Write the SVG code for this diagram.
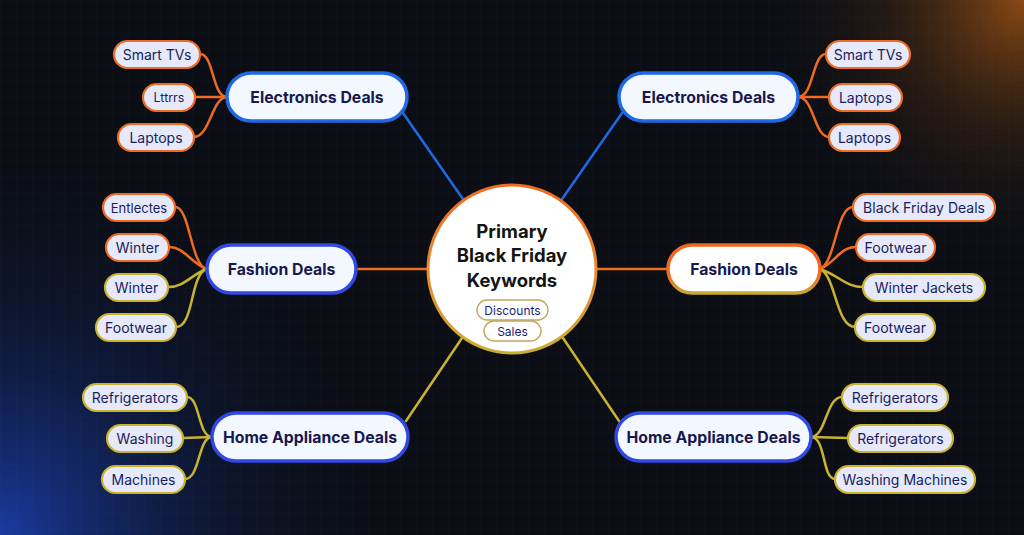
<svg xmlns="http://www.w3.org/2000/svg" width="1024" height="535" viewBox="0 0 1024 535">
<defs>
<radialGradient id="gBlue" cx="0" cy="535" r="400" gradientUnits="userSpaceOnUse">
<stop offset="0" stop-color="#1c3fb0" stop-opacity="0.9"/>
<stop offset="0.45" stop-color="#122a70" stop-opacity="0.45"/>
<stop offset="1" stop-color="#0b0e16" stop-opacity="0"/>
</radialGradient>
<radialGradient id="gOrange" cx="1024" cy="0" r="280" gradientUnits="userSpaceOnUse">
<stop offset="0" stop-color="#a05414" stop-opacity="0.85"/>
<stop offset="0.5" stop-color="#4a2a10" stop-opacity="0.4"/>
<stop offset="1" stop-color="#0b0e16" stop-opacity="0"/>
</radialGradient>
<linearGradient id="gRing" x1="0" y1="0" x2="0" y2="1">
<stop offset="0" stop-color="#ef6a22"/>
<stop offset="0.5" stop-color="#e88a30"/>
<stop offset="1" stop-color="#c8b030"/>
</linearGradient>
<linearGradient id="gFash" x1="0" y1="0" x2="0" y2="1">
<stop offset="0" stop-color="#f2641c"/>
<stop offset="0.6" stop-color="#ef6a22"/>
<stop offset="1" stop-color="#c8a830"/>
</linearGradient>
<pattern id="grid" width="16" height="16" patternUnits="userSpaceOnUse">
<path d="M16 0H0V16" fill="none" stroke="#ffffff" stroke-opacity="0.025" stroke-width="1"/>
</pattern>
<style>
.main{fill:#f3f7ff;stroke-width:3.5}
.mt{font-family:Inter,"Noto Sans",sans-serif;font-weight:700;font-size:15.8px;fill:#17184f;text-anchor:middle;dominant-baseline:central}
.leaf{fill:#e5e9fa;stroke-width:2.2}
.lt{font-family:Inter,"Noto Sans",sans-serif;font-size:14px;fill:#1b1d5c;text-anchor:middle;dominant-baseline:central}
.or{stroke:#ef6a22}
.ye{stroke:#c9b32e}
.bl{stroke:#1f68e6}
.bl2{stroke:#3248e4}
.con{fill:none;stroke-width:2.5;stroke-linecap:round}
.ct{font-family:Inter,"Noto Sans",sans-serif;font-weight:700;font-size:18.5px;fill:#141414;text-anchor:middle}
.tag{fill:#ffffff;stroke:#c0a860;stroke-width:1.4}
.tt{font-family:Inter,"Noto Sans",sans-serif;font-size:12px;fill:#1b1d7a;text-anchor:middle;dominant-baseline:central}
</style>
</defs>
<rect width="1024" height="535" fill="#0b0e15"/>
<rect width="1024" height="535" fill="url(#gBlue)"/>
<rect width="1024" height="535" fill="url(#gOrange)"/>
<rect width="1024" height="535" fill="url(#grid)"/>

<g id="connectors">
<path class="con bl" d="M403 113 L465 202"/>
<path class="con bl" d="M622 113 L560 202"/>
<path class="con or" d="M356 269 L430 269"/>
<path class="con or" d="M596 269 L668 269"/>
<path class="con ye" d="M462 338 L406 421"/>
<path class="con ye" d="M563 338 L619 421"/>
<path class="con or" d="M227 97 C212 97 214 54 200 54"/>
<path class="con or" d="M227 97 L195 97"/>
<path class="con or" d="M227 97 C212 97 210 137 194 137"/>
<path class="con or" d="M798 97 C814 97 812 54 826 54"/>
<path class="con or" d="M798 97 L829 97"/>
<path class="con or" d="M798 97 C814 97 814 137 829 137"/>
<path class="con or" d="M206 269 C190 262 190 207 175 207"/>
<path class="con or" d="M206 269 C190 262 184 247 169 247"/>
<path class="con ye" d="M206 269 C190 276 184 287 168 287"/>
<path class="con ye" d="M206 269 C190 276 194 327 176 327"/>
<path class="con or" d="M820 269 C836 262 836 207 853 207"/>
<path class="con or" d="M820 269 C836 262 840 247 856 247"/>
<path class="con ye" d="M820 269 C840 276 846 287 863 287"/>
<path class="con ye" d="M820 269 C836 276 836 327 855 327"/>
<path class="con ye" d="M212 437 C198 437 200 397 187 397"/>
<path class="con ye" d="M212 437 L183 438"/>
<path class="con ye" d="M212 437 C198 437 200 479 185 479"/>
<path class="con ye" d="M811 437 C826 437 826 397 842 397"/>
<path class="con ye" d="M811 437 L848 438"/>
<path class="con ye" d="M811 437 C826 437 822 479 835 479"/>
</g>

<g id="center">
<circle cx="512" cy="269" r="84" fill="#ffffff" stroke="url(#gRing)" stroke-width="3"/>
<text class="ct" x="512" y="238">Primary</text>
<text class="ct" x="512" y="262">Black Friday</text>
<text class="ct" x="512" y="287">Keywords</text>
<rect class="tag" x="477" y="300" width="71" height="20" rx="10"/>
<text class="tt" x="512.5" y="310">Discounts</text>
<rect class="tag" x="484" y="321" width="57" height="20" rx="10"/>
<text class="tt" x="512.5" y="331">Sales</text>
</g>

<g id="electronics-left">
<rect class="main bl" x="227" y="73" width="180" height="48" rx="24"/>
<text class="mt" x="317" y="97">Electronics Deals</text>
</g>
<g id="el-smarttvs"><rect class="leaf or" x="114" y="41" width="86" height="27" rx="13.5"/><text class="lt" x="157" y="54.5">Smart TVs</text></g>
<g id="el-ltrrs"><rect class="leaf or" x="143" y="84" width="52" height="27" rx="13.5"/><text class="lt" x="169" y="97.5" style="font-size:12.5px">Lttrrs</text></g>
<g id="el-laptops"><rect class="leaf or" x="118" y="124" width="76" height="27" rx="13.5"/><text class="lt" x="156" y="137.5">Laptops</text></g>

<g id="electronics-right">
<rect class="main bl" x="619" y="73" width="179" height="48" rx="24"/>
<text class="mt" x="708.5" y="97">Electronics Deals</text>
</g>
<g id="er-smarttvs"><rect class="leaf or" x="826" y="41" width="84" height="27" rx="13.5"/><text class="lt" x="868" y="54.5">Smart TVs</text></g>
<g id="er-laptops1"><rect class="leaf or" x="829" y="84" width="73" height="27" rx="13.5"/><text class="lt" x="865.5" y="97.5">Laptops</text></g>
<g id="er-laptops2"><rect class="leaf or" x="829" y="124" width="71" height="27" rx="13.5"/><text class="lt" x="864.5" y="137.5">Laptops</text></g>

<g id="fashion-left">
<rect class="main bl2" x="207" y="245" width="149" height="48" rx="24"/>
<text class="mt" x="281.5" y="269">Fashion Deals</text>
</g>
<g id="fl-entlectes"><rect class="leaf or" x="103" y="194" width="72" height="27" rx="13.5"/><text class="lt" x="139" y="207.5" style="font-size:13px">Entlectes</text></g>
<g id="fl-winter1"><rect class="leaf or" x="106" y="234" width="63" height="27" rx="13.5"/><text class="lt" x="137.5" y="247.5">Winter</text></g>
<g id="fl-winter2"><rect class="leaf ye" x="105" y="274" width="63" height="27" rx="13.5"/><text class="lt" x="136.5" y="287.5">Winter</text></g>
<g id="fl-footwear"><rect class="leaf ye" x="96" y="314" width="80" height="27" rx="13.5"/><text class="lt" x="136" y="327.5">Footwear</text></g>

<g id="fashion-right">
<rect x="668" y="245" width="152" height="48" rx="24" fill="#ffffff" stroke="url(#gFash)" stroke-width="3.5"/>
<text class="mt" x="744" y="269">Fashion Deals</text>
</g>
<g id="fr-bfdeals"><rect class="leaf or" x="853" y="194" width="142" height="27" rx="13.5"/><text class="lt" x="924" y="207.5">Black Friday Deals</text></g>
<g id="fr-footwear1"><rect class="leaf or" x="856" y="234" width="79" height="27" rx="13.5"/><text class="lt" x="895.5" y="247.5">Footwear</text></g>
<g id="fr-winterjackets"><rect class="leaf ye" x="863" y="274" width="122" height="27" rx="13.5"/><text class="lt" x="924" y="287.5">Winter Jackets</text></g>
<g id="fr-footwear2"><rect class="leaf ye" x="855" y="314" width="80" height="27" rx="13.5"/><text class="lt" x="895" y="327.5">Footwear</text></g>

<g id="home-left">
<rect class="main bl2" x="212" y="413" width="196" height="48" rx="24"/>
<text class="mt" x="310" y="437">Home Appliance Deals</text>
</g>
<g id="hl-refrig"><rect class="leaf ye" x="83" y="384" width="104" height="27" rx="13.5"/><text class="lt" x="135" y="397.5">Refrigerators</text></g>
<g id="hl-washing"><rect class="leaf ye" x="107" y="425" width="76" height="27" rx="13.5"/><text class="lt" x="145" y="438.5">Washing</text></g>
<g id="hl-machines"><rect class="leaf ye" x="102" y="466" width="83" height="27" rx="13.5"/><text class="lt" x="143.5" y="479.5">Machines</text></g>

<g id="home-right">
<rect class="main bl2" x="616" y="413" width="195" height="48" rx="24"/>
<text class="mt" x="713.5" y="437">Home Appliance Deals</text>
</g>
<g id="hr-refrig1"><rect class="leaf ye" x="842" y="384" width="106" height="27" rx="13.5"/><text class="lt" x="895" y="397.5">Refrigerators</text></g>
<g id="hr-refrig2"><rect class="leaf ye" x="848" y="425" width="105" height="27" rx="13.5"/><text class="lt" x="900.5" y="438.5">Refrigerators</text></g>
<g id="hr-washmach"><rect class="leaf ye" x="835" y="466" width="140" height="27" rx="13.5"/><text class="lt" x="905" y="479.5">Washing Machines</text></g>
</svg>
